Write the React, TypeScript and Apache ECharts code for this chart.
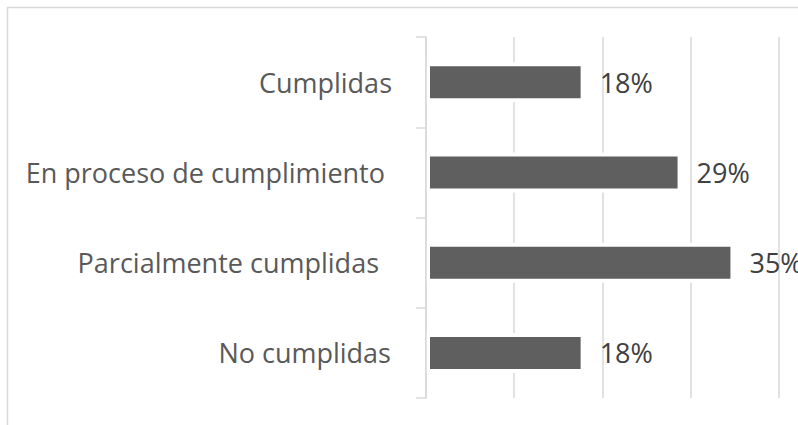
import React, { useEffect, useRef } from "react";
import * as echarts from "echarts";

const categories = [
  "Cumplidas",
  "En proceso de cumplimiento",
  "Parcialmente cumplidas",
  "No cumplidas",
];
const values = [18, 29, 35, 18];
const xMin = 0;
const xMax = 40;
const xStep = 10;

const labelPad: Record<string, number> = {
  "Cumplidas": 0,
  "En proceso de cumplimiento": 7,
  "Parcialmente cumplidas": 13,
  "No cumplidas": 1,
};

export default function App() {
  const ref = useRef<HTMLDivElement>(null);
  useEffect(() => {
    if (!ref.current) return;
    const chart = echarts.init(ref.current, null, { renderer: "svg" });
    const rich: Record<string, any> = {};
    categories.forEach((c, i) => {
      rich["p" + i] = {
        fontFamily: "Open Sans",
        fontSize: 27,
        color: "#595959",
        padding: [0, labelPad[c], 0, 0],
      };
    });
    chart.setOption({
      animation: false,
      backgroundColor: "#ffffff",
      graphic: [
        {
          type: "rect",
          shape: { x: 7.5, y: 7.5, width: 1000, height: 1000 },
          style: { fill: "none", stroke: "#d9d9d9", lineWidth: 1.5 },
          silent: true,
        },
      ],
      grid: { left: 426, right: 19.5, top: 37, bottom: 27, containLabel: false },
      xAxis: {
        type: "value",
        min: xMin,
        max: xMax,
        interval: xStep,
        axisLabel: { show: false },
        axisLine: { show: false },
        axisTick: { show: false },
        splitLine: { show: true, lineStyle: { color: "#d9d9d9", width: 1.5 } },
      },
      yAxis: {
        type: "category",
        data: categories,
        inverse: true,
        z: 10,
        axisLine: { show: true, lineStyle: { color: "#d9d9d9", width: 1.5 } },
        axisTick: { show: true, length: 10, lineStyle: { color: "#d9d9d9", width: 1.5 } },
        axisLabel: {
          margin: 34,
          formatter: (v: string, i: number) => `{p${i}|${v}}`,
          rich,
        },
      },
      series: [
        {
          type: "bar",
          data: values,
          barWidth: 40,
          itemStyle: { color: "#5f5f5f", borderColor: "#ffffff", borderWidth: 4 },
          label: {
            show: true,
            position: "right",
            distance: 15,
            formatter: "{c}%",
            fontFamily: "Open Sans",
            fontSize: 27,
            color: "#404040",
          },
        },
      ],
    });
    return () => chart.dispose();
  }, []);
  return (
    <div
      ref={ref}
      style={{ position: "fixed", left: 0, top: 0, width: 798, height: 425 }}
    />
  );
}
